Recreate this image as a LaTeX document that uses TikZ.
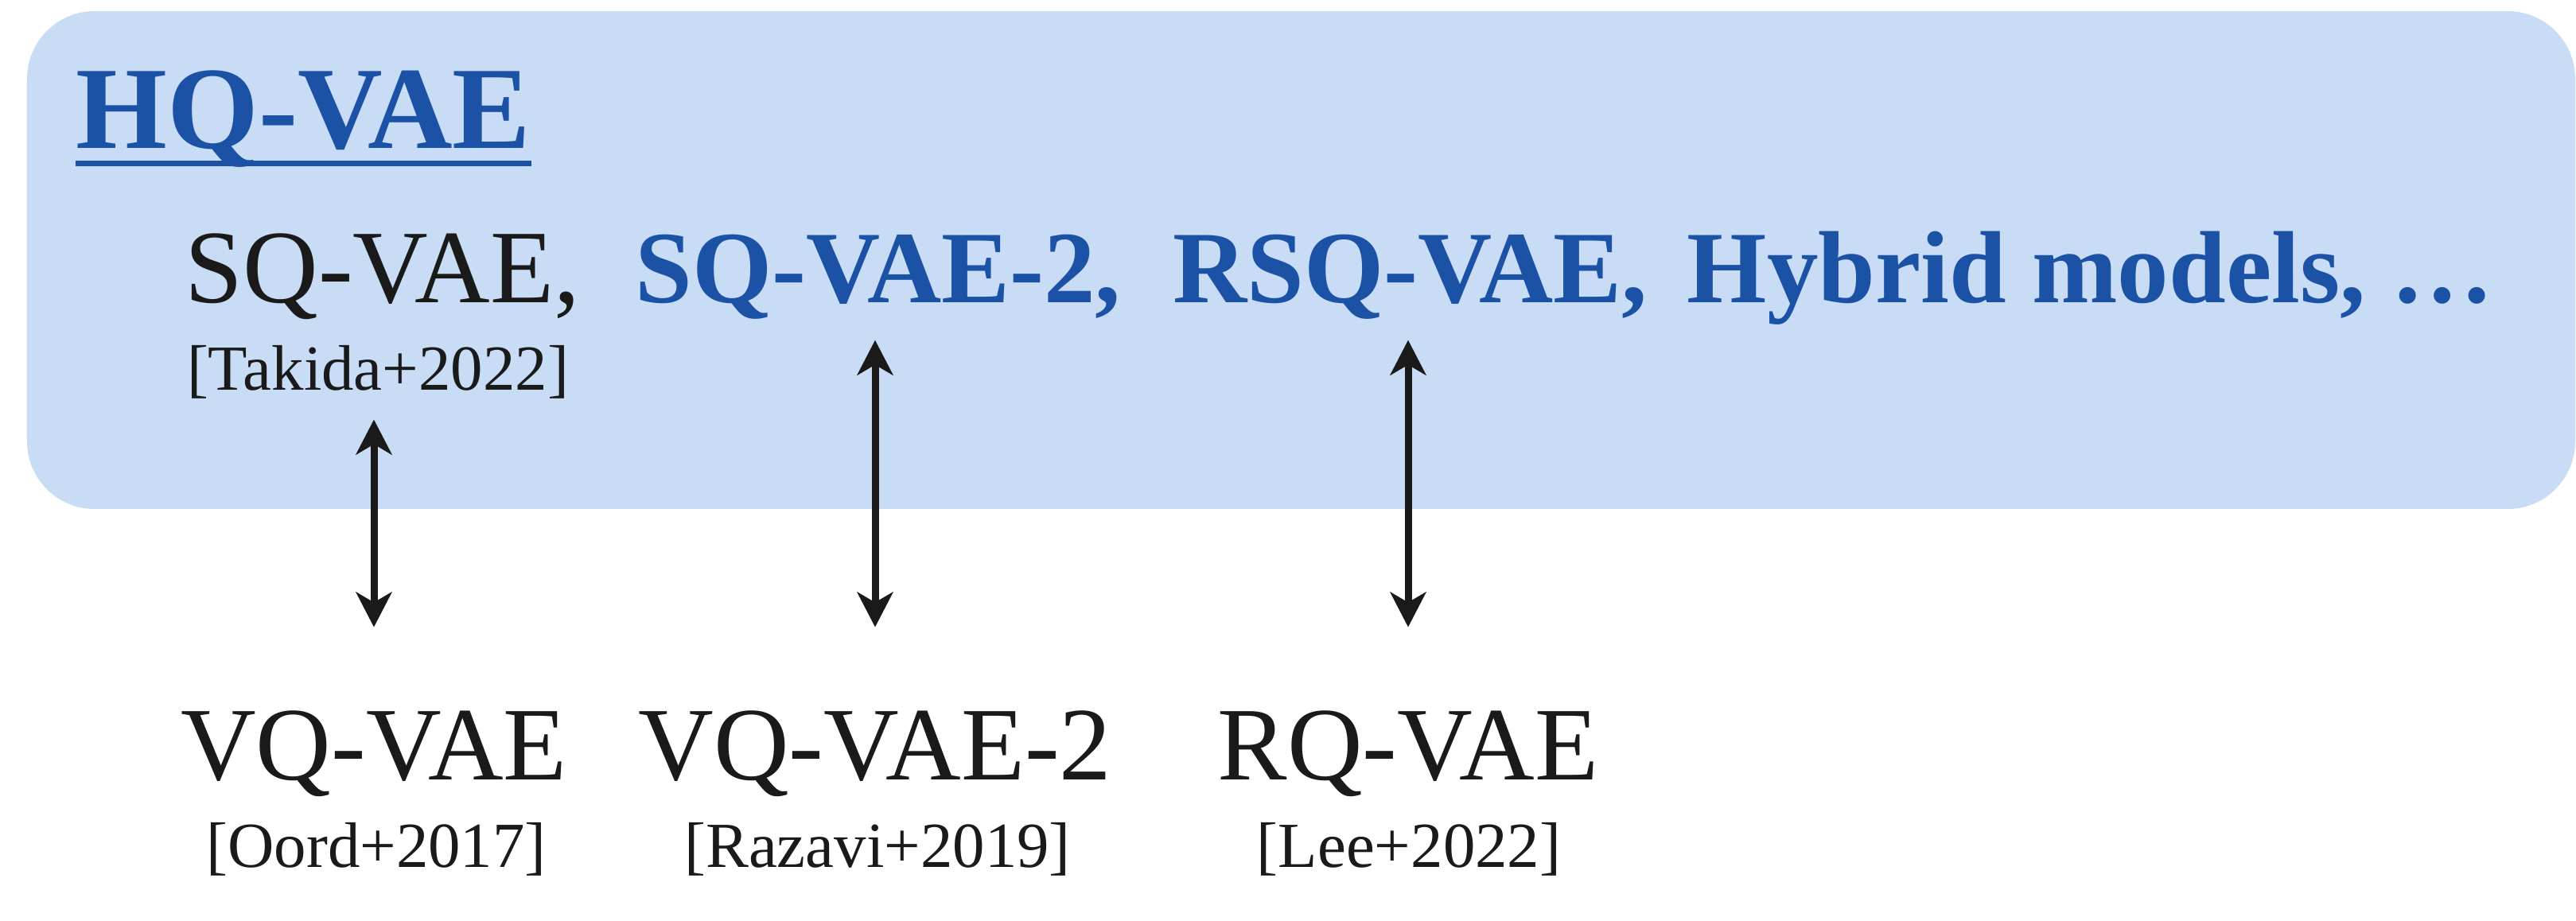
\documentclass[tikz,border=0pt]{standalone}
\usepackage{fontspec}
\setmainfont{Liberation Serif}
\usepackage{tikz}
\usetikzlibrary{arrows.meta}
\usetikzlibrary{positioning}
\usetikzlibrary{calc}

\definecolor{hqblue}{HTML}{1B52A6}
\definecolor{hqfill}{HTML}{C8DCF5}
\definecolor{ink}{HTML}{1A1A1A}

\begin{document}
\begin{tikzpicture}[x=1cm, y=-1cm, every node/.style={inner sep=0pt, text=ink},
    model/.style={font=\fontsize{37.3}{40}\selectfont},
    newmodel/.style={font=\fontsize{36.7}{40}\selectfont\bfseries, text=hqblue},
    cite/.style={font=\fontsize{23}{25}\selectfont},
    link/.style={ink, line width=0.09cm, {Stealth[length=0.44cm, width=0.45cm, inset=0.13cm]}-{Stealth[length=0.44cm, width=0.45cm, inset=0.13cm]}, shorten <=0.25cm, shorten >=1.04cm}]

      \useasboundingbox (0, 0) rectangle (32.38, 11.58);

      % HQ-VAE family
      \fill[hqfill, rounded corners=0.85cm] (0.34, 0.14) rectangle (32.37, 6.40);

      \node[anchor=base west, font=\fontsize{42}{46}\selectfont\bfseries, text=hqblue] (title) at (0.95, 1.87) {HQ-VAE};
      \draw[hqblue, line width=0.07cm] ($(title.base west) + (0, 0.185)$) -- ($(title.base east) + (0, 0.185)$);

      \node[model, anchor=base west] (sqvae) at (2.32, 3.81) {SQ-VAE,};
      \node[newmodel, anchor=base west] (sqvaetwo) at (7.98, 3.81) {SQ-VAE-2,};
      \node[newmodel, anchor=base west] (rsqvae) at (14.74, 3.81) {RSQ-VAE,};
      \node[newmodel, anchor=base west] (hybrid) at (21.2, 3.81) {Hybrid models, …};

      \node[cite, anchor=base] (takida) at (4.75, 4.91) {[Takida+2022]};

      % VQ-VAE family
      \node[model, anchor=base] (vqvae) at (4.70, 9.80) {VQ-VAE};
      \node[model, anchor=base] (vqvaetwo) at (11.00, 9.80) {VQ-VAE-2};
      \node[model, anchor=base] (rqvae) at (17.70, 9.80) {RQ-VAE};

      \node[cite, anchor=base] (oord) at (4.73, 10.90) {[Oord+2017]};
      \node[cite, anchor=base] (razavi) at (11.03, 10.90) {[Razavi+2019]};
      \node[cite, anchor=base] (lee) at (17.71, 10.90) {[Lee+2022]};

      \foreach \up/\down in {takida/vqvae, sqvaetwo/vqvaetwo, rsqvae/rqvae} {
        \draw[link] (\down |- \up.south) -- (\down.north);
      }
\end{tikzpicture}
\end{document}
